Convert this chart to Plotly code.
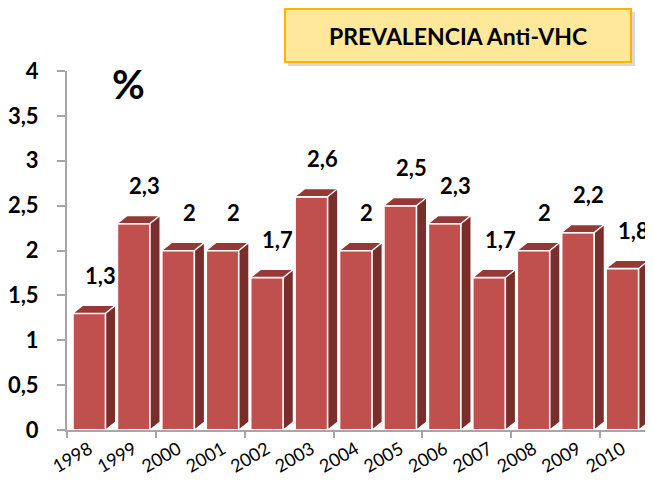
import plotly.graph_objects as go

years = ["1998", "1999", "2000", "2001", "2002", "2003", "2004",
         "2005", "2006", "2007", "2008", "2009", "2010"]
prevalence = [1.3, 2.3, 2.0, 2.0, 1.7, 2.6, 2.0, 2.5, 2.3, 1.7, 2.0, 2.2, 1.8]

# page is drawn with the browser's 8px body margin, so the figure is a bit smaller
PAGE_OFF = 8
W, H = 653 - PAGE_OFF, 485 - PAGE_OFF
L, R, T, B = 67 - PAGE_OFF, 4, 71 - PAGE_OFF, 55
x_range = [-0.5, 12.6]
y_range = [0, 4]
bar_w = 0.74

# fake 3D depth: pixels converted to data units
px_x = (W - L - R) / (x_range[1] - x_range[0])
px_y = (H - T - B) / (y_range[1] - y_range[0])
dx = 10 / px_x
dy = 8 / px_y

idx = list(range(len(years)))

top_x, top_y, side_x, side_y = [], [], [], []
for i, v in zip(idx, prevalence):
    x0, x1 = i - bar_w / 2, i + bar_w / 2
    top_x += [x0, x1, x1 + dx, x0 + dx, x0, None]
    top_y += [v, v, v + dy, v + dy, v, None]
    side_x += [x1, x1 + dx, x1 + dx, x1, x1, None]
    side_y += [0, dy, v + dy, v, 0, None]

fig = go.Figure()
fig.add_trace(go.Bar(x=idx, y=prevalence, width=bar_w,
                     marker=dict(color="#C0504D", line=dict(color="white", width=2))))
fig.add_trace(go.Scatter(x=top_x, y=top_y, mode="lines", fill="toself",
                         fillcolor="#953937", line=dict(color="white", width=1.2),
                         hoverinfo="skip"))
fig.add_trace(go.Scatter(x=side_x, y=side_y, mode="lines", fill="toself",
                         fillcolor="#7A2E2C", line=dict(color="white", width=1.2),
                         hoverinfo="skip"))

for i, v in zip(idx, prevalence):
    fig.add_annotation(x=i, y=v, text=f"{v:g}".replace(".", ","), showarrow=False,
                       xanchor="center", yanchor="middle", xshift=11, yshift=38,
                       font=dict(family="Lato", size=22, color="black", weight="bold"))

def px_to_paper(px, py):
    # page pixel -> paper coords
    px, py = px - PAGE_OFF, py - PAGE_OFF
    return (px - L) / (W - L - R), (H - B - py) / (H - T - B)

# title box with shadow
sx0, sy0 = px_to_paper(288, 12)
sx1, sy1 = px_to_paper(635, 66)
fig.add_shape(type="rect", xref="paper", yref="paper", x0=sx0, y0=sy0, x1=sx1, y1=sy1,
              fillcolor="rgba(0,0,0,0.15)", line=dict(width=0), layer="above")
bx0, by0 = px_to_paper(285, 9)
bx1, by1 = px_to_paper(631, 62)
fig.add_shape(type="rect", xref="paper", yref="paper", x0=bx0, y0=by0, x1=bx1, y1=by1,
              fillcolor="#FFE89A", line=dict(color="#FFB300", width=2), layer="above")
cx, cy = px_to_paper(458, 36)
fig.add_annotation(xref="paper", yref="paper", x=cx, y=cy, text="PREVALENCIA Anti-VHC",
                   showarrow=False, xanchor="center", yanchor="middle",
                   font=dict(family="Lato", size=23, color="black", weight="bold"))

px, py = px_to_paper(128, 84)
fig.add_annotation(xref="paper", yref="paper", x=px, y=py, text="%", showarrow=False,
                   xanchor="center", yanchor="middle",
                   font=dict(family="Lato", size=40, color="black", weight="bold"))

fig.update_layout(
    width=W, height=H,
    margin=dict(l=L, r=R, t=T, b=B, autoexpand=False),
    paper_bgcolor="white", plot_bgcolor="white",
    showlegend=False, separators=",.",
    xaxis=dict(range=x_range, tickmode="array", tickvals=idx, ticktext=years,
               tickangle=-30, ticks="", showgrid=False, zeroline=False,
               showline=True, linecolor="#A6A6A6", linewidth=2, automargin=False,
               tickfont=dict(family="Lato", size=18, color="black"),
               minor=dict(ticks="outside", tickmode="linear", tick0=-0.5, dtick=2,
                          ticklen=6, tickcolor="#A6A6A6", tickwidth=1.5)),
    yaxis=dict(range=y_range, dtick=0.5, ticks="outside", ticklen=8,
               tickcolor="#A6A6A6", tickwidth=1.5, showgrid=False, zeroline=False,
               showline=True, linecolor="#A6A6A6", linewidth=2, automargin=False,
               ticklabelstandoff=14,
               tickfont=dict(family="Lato", size=22, color="black", weight="bold")),
)

fig.write_html("out.html")
